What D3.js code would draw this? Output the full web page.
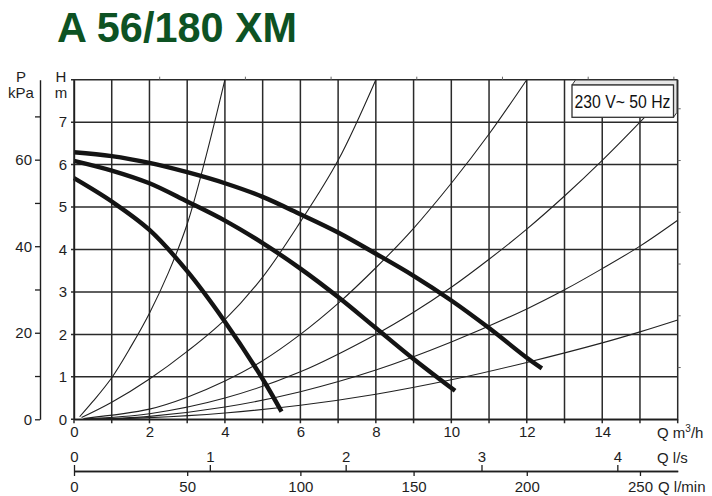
<!DOCTYPE html>
<html>
<head>
<meta charset="utf-8">
<script src="https://cdn.jsdelivr.net/npm/d3@7"></script>
<style>
  html, body { margin: 0; padding: 0; background: #fff; }
  svg { display: block; font-family: "Liberation Sans", Arial, Helvetica, sans-serif; }
</style>
</head>
<body>
<svg id="chart" width="712" height="496"></svg>
<script>
// ---------------- data ----------------
const titleText = "A 56/180 XM";
const legendText = "230 V~ 50 Hz";

// tick labels
const qTicks = [0, 2, 4, 6, 8, 10, 12, 14];          // m³/h (labelled)
const qGrid = d3.range(0, 17);                        // m³/h grid
const hTicks = [0, 1, 2, 3, 4, 5, 6, 7];             // m
const hGrid = d3.range(0, 9);
const pTicks = [0, 10, 20, 30, 40, 50, 60, 70];      // kPa
const pLabels = [0, 20, 40, 60];
const lsTicks = [0, 1, 2, 3, 4];                     // l/s
const lminTicks = [0, 50, 100, 150, 200, 250];       // l/min
const gpmTicks = [10, 20, 30, 40, 50, 60, 70];       // US gpm (unlabelled marks on top)
const ftTicks = [4, 8, 12, 16, 20, 24];              // ft (unlabelled marks on right)

// pump curves (speed 3, 2, 1) : Q m³/h, H m
const speed3Q = [0, 1, 2, 3, 4, 5, 6, 7, 8, 9, 10, 11, 12, 12.4];
const speed3H = [6.29, 6.2, 6.04, 5.82, 5.56, 5.24, 4.83, 4.4, 3.9, 3.38, 2.8, 2.15, 1.45, 1.2];
const speed2Q = [0, 1, 2, 3, 4, 5, 6, 7, 8, 9, 10.1];
const speed2H = [6.09, 5.86, 5.56, 5.13, 4.68, 4.15, 3.55, 2.88, 2.15, 1.42, 0.67];
const speed1Q = [0, 1, 2, 3, 4, 5, 5.5];
const speed1H = [5.68, 5.13, 4.46, 3.49, 2.3, 0.95, 0.18];

// system (resistance) curves : Q m³/h, H m
const sysAQ = [0.15, 0.5, 1.0, 1.5, 2.0, 2.5, 3.0, 3.5, 4.0];
const sysAH = [0.06, 0.42, 0.98, 1.7, 2.5, 3.45, 4.6, 6.2, 8.0];
const sysBQ = [0.2, 1, 2, 3, 4, 5, 6, 7, 8];
const sysBH = [0.04, 0.4, 0.95, 1.6, 2.35, 3.35, 4.65, 6.1, 8.0];
const sysCQ = [0.25, 2, 3, 4, 5, 6, 7, 8, 9, 10, 11, 12];
const sysCH = [0.02, 0.24, 0.52, 0.9, 1.38, 2.0, 2.73, 3.57, 4.5, 5.56, 6.72, 8.0];
const sysDQ = [0.3, 2, 4, 6, 8, 9, 10, 11, 12, 13, 14, 15, 16];
const sysDH = [0.01, 0.13, 0.5, 1.12, 2.0, 2.52, 3.11, 3.77, 4.48, 5.26, 6.1, 7.0, 7.95];
const sysEQ = [0.3, 2, 4, 6, 8, 10, 12, 13, 14, 15, 16];
const sysEH = [0.0, 0.07, 0.29, 0.65, 1.16, 1.82, 2.6, 3.05, 3.55, 4.08, 4.69];
const sysFQ = [0.3, 2, 4, 6, 8, 10, 12, 14, 15, 16];
const sysFH = [0.0, 0.04, 0.15, 0.33, 0.59, 0.93, 1.34, 1.8, 2.06, 2.34];

// ---------------- drawing ----------------
const svg = d3.select("#chart");
const x = d3.scaleLinear().domain([0, 16]).range([74, 677.7]);
const y = d3.scaleLinear().domain([0, 8]).range([419.3, 79.7]);
const yP = d3.scaleLinear().domain([0, 8 * 9.81]).range([419.3, 79.7]);
const xLs = d3.scaleLinear().domain([0, 16 / 3.6]).range([74, 677.7]);
const xLmin = d3.scaleLinear().domain([0, 16000 / 60]).range([74, 677.7]);
const xGpm = d3.scaleLinear().domain([0, 16 * 4.4029]).range([74, 677.7]);
const yFt = d3.scaleLinear().domain([0, 8 / 0.3048]).range([419.3, 79.7]);

const ink = "#1e1e1e";

// title
svg.append("text")
  .attr("x", 57).attr("y", 41.5)
  .attr("font-size", 43).attr("font-weight", "bold")
  .attr("fill", "#0d5223")
  .attr("textLength", 240).attr("lengthAdjust", "spacingAndGlyphs")
  .text(titleText);

// grid
const grid = svg.append("g");
grid.selectAll("line.v").data(qGrid).join("line")
  .attr("x1", d => x(d)).attr("x2", d => x(d))
  .attr("y1", y(8)).attr("y2", y(0) + 4)
  .attr("stroke", "#2a2a2a").attr("stroke-width", 1.5);
grid.selectAll("line.h").data(hGrid).join("line")
  .attr("x1", x(0) - 3).attr("x2", x(16))
  .attr("y1", d => y(d)).attr("y2", d => y(d))
  .attr("stroke", "#2a2a2a").attr("stroke-width", 1.5);

// small gpm marks on top, ft marks on right
grid.selectAll("line.g").data(gpmTicks).join("line")
  .attr("x1", d => xGpm(d)).attr("x2", d => xGpm(d))
  .attr("y1", y(8)).attr("y2", y(8) - 3)
  .attr("stroke", "#666").attr("stroke-width", 1);
grid.selectAll("line.f").data(ftTicks).join("line")
  .attr("x1", x(16)).attr("x2", x(16) + 3)
  .attr("y1", d => yFt(d)).attr("y2", d => yFt(d))
  .attr("stroke", "#666").attr("stroke-width", 1);

// clip
svg.append("clipPath").attr("id", "plot")
  .append("rect").attr("x", x(0)).attr("y", y(8)).attr("width", x(16) - x(0)).attr("height", y(0) - y(8));

const line = d3.line().x(d => x(d[0])).y(d => y(d[1])).curve(d3.curveCatmullRom.alpha(0.5));
const zip = (qs, hs) => qs.map((q, i) => [q, hs[i]]);

const systems = [
  zip(sysAQ, sysAH), zip(sysBQ, sysBH), zip(sysCQ, sysCH),
  zip(sysDQ, sysDH), zip(sysEQ, sysEH), zip(sysFQ, sysFH)
];
svg.append("g").attr("clip-path", "url(#plot)")
  .selectAll("path").data(systems).join("path")
  .attr("d", line).attr("fill", "none")
  .attr("stroke", "#222").attr("stroke-width", 1.1);

const pumps = [zip(speed3Q, speed3H), zip(speed2Q, speed2H), zip(speed1Q, speed1H)];
svg.append("g")
  .selectAll("path").data(pumps).join("path")
  .attr("d", line).attr("fill", "none")
  .attr("stroke", "#141414").attr("stroke-width", 4.4)
  .attr("stroke-linecap", "butt").attr("stroke-linejoin", "round");

// axes styling helper
function styleAxis(g, fs) {
  g.selectAll("path.domain").attr("stroke", ink).attr("stroke-width", 1.4);
  g.selectAll(".tick line").attr("stroke", ink).attr("stroke-width", 1.3);
  g.selectAll(".tick text").attr("fill", ink).attr("font-size", fs)
    .attr("font-family", "Liberation Sans, Arial, sans-serif");
}

// Q m³/h axis
const axQ = svg.append("g").attr("transform", `translate(0,${y(0)})`)
  .call(d3.axisBottom(x).tickValues(qTicks).tickSize(0).tickSizeOuter(0).tickPadding(7));
styleAxis(axQ, 15);

// H axis
const axH = svg.append("g").attr("transform", `translate(${x(0)},0)`)
  .call(d3.axisLeft(y).tickValues(hTicks).tickSize(0).tickSizeOuter(0).tickPadding(7));
styleAxis(axH, 15);

// P axis
const axP = svg.append("g").attr("transform", "translate(40,0)")
  .call(d3.axisLeft(yP).tickValues(pTicks).tickFormat(d => pLabels.includes(d) ? d : "")
    .tickSize(5).tickSizeOuter(0).tickPadding(3));
styleAxis(axP, 15);

// l/s axis (ticks up) and l/min axis (ticks down) on the same line
const axLs = svg.append("g").attr("transform", "translate(0,471)")
  .call(d3.axisTop(xLs).tickValues(lsTicks).tickFormat(d3.format("d"))
    .tickSize(6).tickSizeOuter(0).tickPadding(3));
styleAxis(axLs, 15);
const axLmin = svg.append("g").attr("transform", "translate(0,471)")
  .call(d3.axisBottom(xLmin).tickValues(lminTicks).tickFormat(d3.format("d"))
    .tickSize(5).tickSizeOuter(0).tickPadding(5));
styleAxis(axLmin, 15);

// axis unit labels
const lab = svg.append("g").attr("fill", ink).attr("font-size", 15);
lab.append("text").attr("x", 21).attr("y", 82).attr("text-anchor", "middle").text("P");
lab.append("text").attr("x", 21).attr("y", 98).attr("text-anchor", "middle").text("kPa");
lab.append("text").attr("x", 61).attr("y", 82).attr("text-anchor", "middle").text("H");
lab.append("text").attr("x", 61).attr("y", 98).attr("text-anchor", "middle").text("m");
const qm = lab.append("text").attr("x", 657).attr("y", 438);
qm.append("tspan").text("Q m");
qm.append("tspan").attr("font-size", 10).attr("dy", -6).text("3");
qm.append("tspan").attr("dy", 6).text("/h");
lab.append("text").attr("x", 657).attr("y", 463).text("Q l/s");
lab.append("text").attr("x", 658).attr("y", 492).text("Q l/min");

// legend box (3D style)
const bx0 = 572, by0 = 85, bx1 = 673.5, by1 = 117.3, dx = 3.5, dy = -5;
const leg = svg.append("g");
leg.append("polygon")
  .attr("points", [[bx0, by0], [bx0 + dx, by0 + dy], [bx1 + dx, by0 + dy], [bx1 + dx, by1 + dy], [bx1, by1], [bx1, by0]].map(p => p.join(",")).join(" "))
  .attr("fill", "#e6e6e6").attr("stroke", "#333").attr("stroke-width", 1);
leg.append("rect").attr("x", bx0).attr("y", by0).attr("width", bx1 - bx0).attr("height", by1 - by0)
  .attr("fill", "#fff").attr("stroke", "#333").attr("stroke-width", 1.3);
leg.append("text").attr("x", bx0 + 2.5).attr("y", by1 - 9)
  .attr("font-size", 18).attr("fill", "#111")
  .attr("textLength", 96).attr("lengthAdjust", "spacingAndGlyphs")
  .text(legendText);
</script>
</body>
</html>
